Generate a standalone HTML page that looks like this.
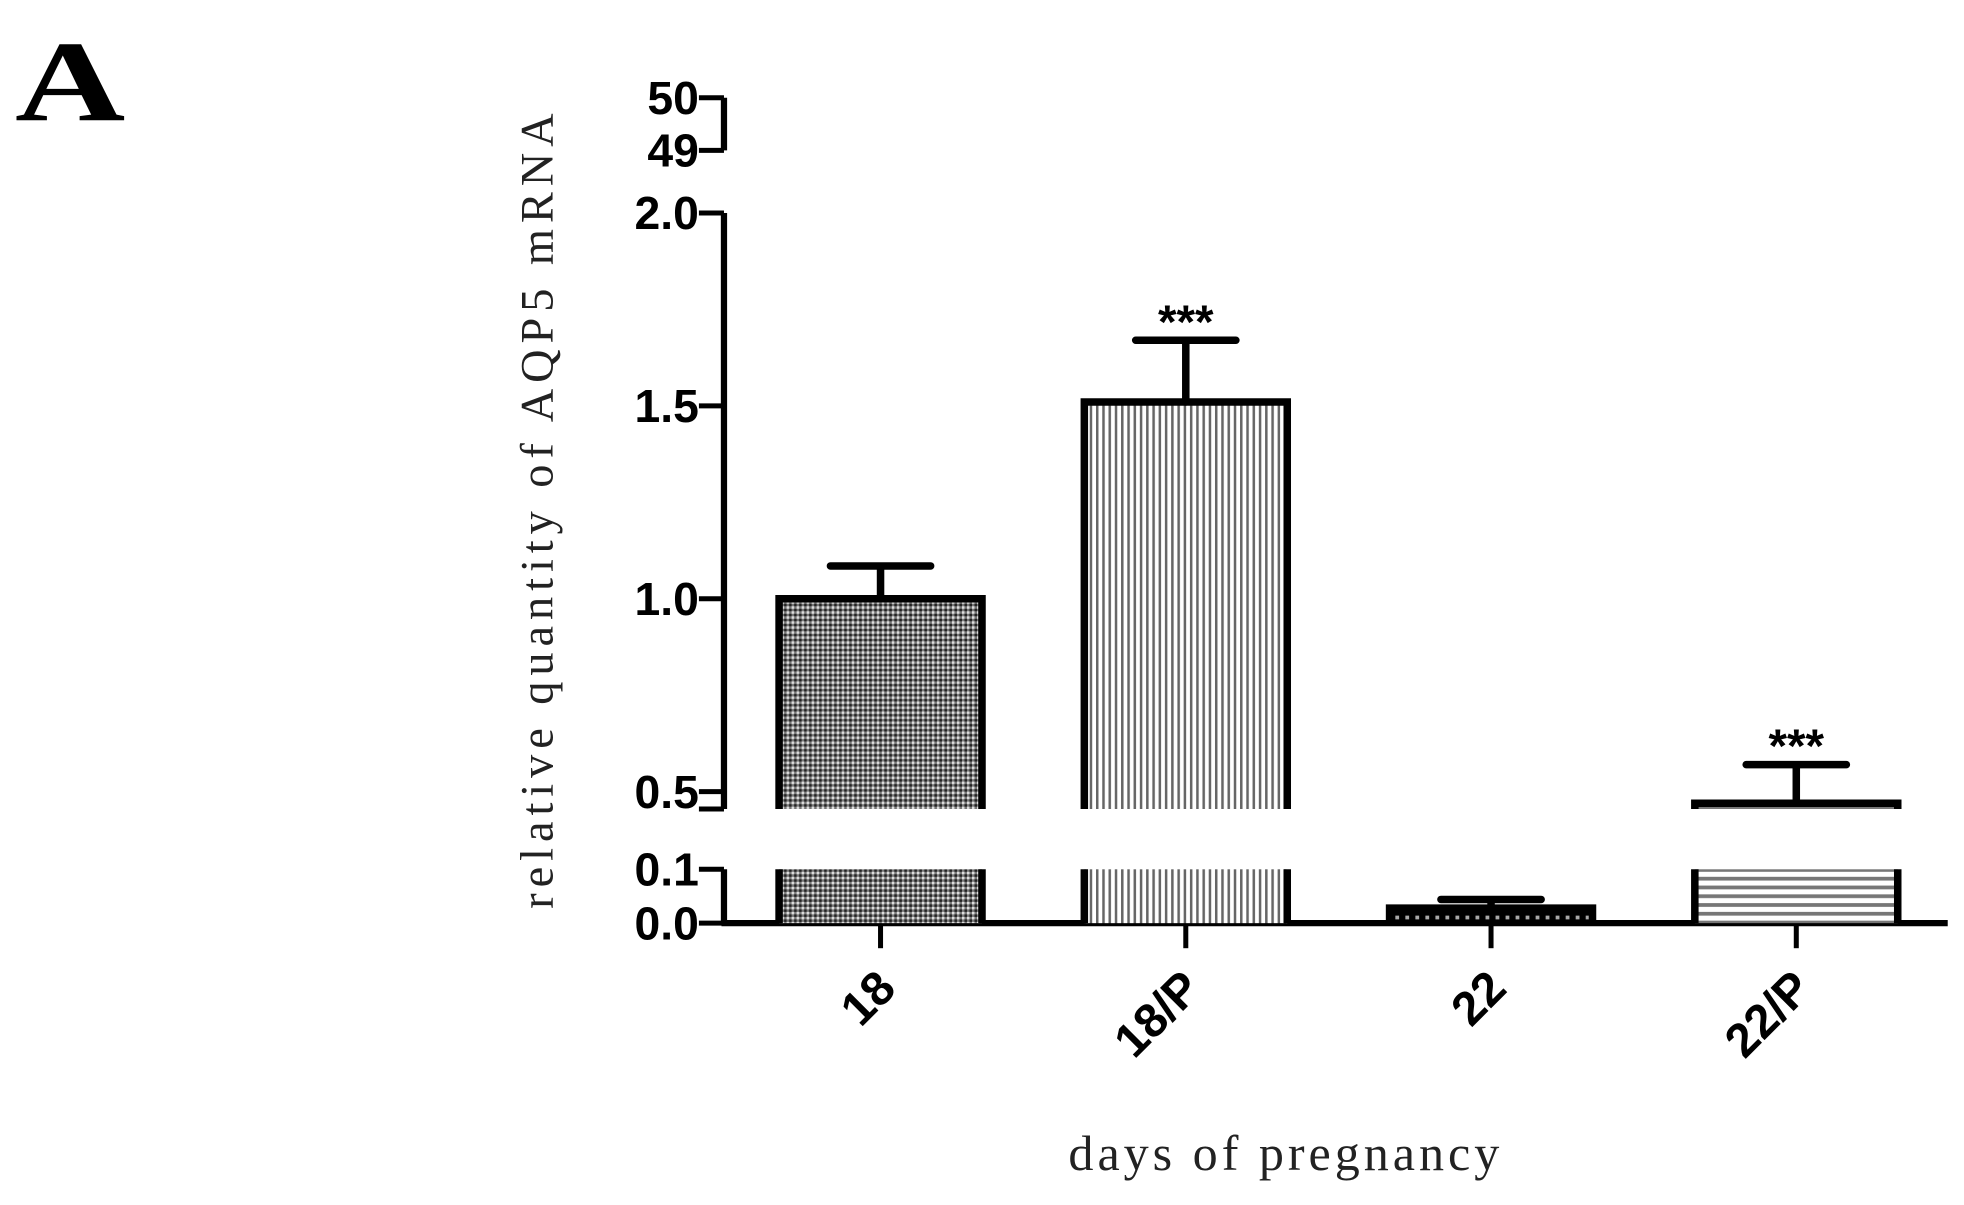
<!DOCTYPE html>
<html><head><meta charset="utf-8"><style>
html,body{margin:0;padding:0;background:#fff;}
svg{display:block;}
.tl{font-family:"Liberation Sans",Arial,sans-serif;font-weight:bold;font-size:37px;fill:#000;}
.xl{font-family:"Liberation Sans",Arial,sans-serif;font-weight:bold;font-size:38px;fill:#000;}
.ser{font-family:"Liberation Serif",serif;fill:#222;}
</style></head><body>
<svg id="chart" width="1964" height="1205" viewBox="0 0 1568 962" xmlns="http://www.w3.org/2000/svg">
<defs>
<pattern id="p0" width="4" height="4" patternUnits="userSpaceOnUse"><rect width="4" height="4" fill="#777"/><rect width="2" height="2" fill="#ddd"/><rect x="2" y="2" width="2" height="2" fill="#222"/></pattern>
<pattern id="p1" width="5" height="5" patternUnits="userSpaceOnUse"><rect width="5" height="5" fill="#fff"/><rect width="2" height="5" fill="#666"/></pattern>
<pattern id="p2" width="8" height="8" patternUnits="userSpaceOnUse"><rect width="8" height="8" fill="#000"/><rect x="2" y="3" width="3" height="3" fill="#aaa"/></pattern>
<pattern id="p3" width="5" height="7" patternUnits="userSpaceOnUse"><rect width="5" height="7" fill="#fff"/><rect width="5" height="3" fill="#777"/></pattern>
</defs>
<text x="12" y="96" font-family="Liberation Serif,serif" font-weight="bold" font-size="92" textLength="88" lengthAdjust="spacingAndGlyphs">A</text>
<g id="axes"></g>
<g id="bars"></g>
<text class="ser" transform="translate(441,408) rotate(-90)" text-anchor="middle" font-size="37" textLength="635" lengthAdjust="spacing">relative quantity of AQP5 mRNA</text>
<text class="ser" x="1025" y="934" text-anchor="middle" font-size="40" textLength="344" lengthAdjust="spacing">days of pregnancy</text>
</svg>
<script>
const categories = ["18", "18/P", "22", "22/P"];
const values = [1.0, 1.51, 0.028, 0.47];
const errors = [0.085, 0.16, 0.016, 0.10];
const stars = ["", "***", "", "***"];
const upperTicks = ["0.5", "1.0", "1.5", "2.0"];
const lowerTicks = ["0.0", "0.1"];
const topTicks = ["49", "50"];
const patterns = ["p0", "p1", "p2", "p3"];

const NS = "http://www.w3.org/2000/svg";
const ax = document.getElementById('axes');
const bg = document.getElementById('bars');
const X0 = 578, BASE = 737;
const yU = v => 170 + (2.0 - v) * 308;
const yL = v => BASE - v * 430;
const yT = v => 120 - (v - 49) * 42;
const BREAK_U = 0.455, LMAX = 0.1;
const xC = i => 703 + i * 243.7;
const BW = 162;
function mk(tag, attrs, parent) { const e = document.createElementNS(NS, tag); for (const k in attrs) e.setAttribute(k, attrs[k]); parent.appendChild(e); return e; }

let l = mk('line', {x1: X0, y1: yU(2.0), x2: X0, y2: yU(BREAK_U), stroke: '#000', 'stroke-width': 5}, ax);
 
l = mk('line', {x1: X0, y1: yL(LMAX), x2: X0, y2: BASE, stroke: '#000', 'stroke-width': 5}, ax);
 
l = mk('line', {x1: X0, y1: yT(50), x2: X0, y2: yT(49), stroke: '#000', 'stroke-width': 5}, ax);
 
l = mk('line', {x1: X0 - 2, y1: BASE, x2: 1555, y2: BASE, stroke: '#000', 'stroke-width': 5}, ax);
 
mk('line', {x1: X0 - 20, y1: yU(BREAK_U), x2: X0, y2: yU(BREAK_U), stroke: '#000', 'stroke-width': 4}, ax);

function tick(y, label, name) {
  mk('line', {x1: X0 - 20, y1: y, x2: X0, y2: y, stroke: '#000', 'stroke-width': 4}, ax);
  const t = mk('text', {x: X0 - 20, y: y + 13, 'text-anchor': 'end', class: 'tl'}, ax);
  t.textContent = label;
  
  
}
upperTicks.forEach(s => tick(yU(parseFloat(s)), s, 'y-tick-label'));
lowerTicks.forEach(s => tick(yL(parseFloat(s)), s, 'y-tick-label'));
topTicks.forEach(s => tick(yT(parseFloat(s)), s, 'y-tick-label'));

categories.forEach((c, i) => {
  const cx = xC(i), x1 = cx - BW / 2, x2 = cx + BW / 2, v = values[i];
  const g = mk('g', {}, bg);
  
  
  const vl = Math.min(v, LMAX), ytl = yL(vl);
  mk('rect', {x: x1, y: ytl, width: BW, height: BASE - ytl, fill: 'url(#' + patterns[i] + ')'}, g);
  let d = 'M' + x1 + ' ' + BASE + ' L' + x1 + ' ' + ytl + (v <= LMAX ? ' L' + x2 + ' ' + ytl : ' M' + x2 + ' ' + ytl) + ' L' + x2 + ' ' + BASE;
  mk('path', {d: d, fill: 'none', stroke: '#000', 'stroke-width': 6}, g);
  let errBase;
  if (v > BREAK_U) {
    const ytu = yU(Math.min(v, 2.0)), yb = yU(BREAK_U);
    mk('rect', {x: x1, y: ytu, width: BW, height: yb - ytu, fill: 'url(#' + patterns[i] + ')'}, g);
    mk('path', {d: 'M' + x1 + ' ' + yb + ' L' + x1 + ' ' + ytu + ' L' + x2 + ' ' + ytu + ' L' + x2 + ' ' + yb, fill: 'none', stroke: '#000', 'stroke-width': 6}, g);
    errBase = yU;
  } else errBase = yL;
  const ye = errBase(v + errors[i]), yv = errBase(v);
  const e = mk('path', {d: 'M' + cx + ' ' + yv + ' L' + cx + ' ' + ye + ' M' + (cx - 40) + ' ' + ye + ' L' + (cx + 40) + ' ' + ye, fill: 'none', stroke: '#000', 'stroke-width': 6, 'stroke-linecap': 'round'}, g);
  
  
  if (stars[i]) {
    const s = mk('text', {x: cx, y: ye - 2, 'text-anchor': 'middle', 'font-family': 'Liberation Sans,sans-serif', 'font-weight': 'bold', 'font-size': 38}, g);
    s.textContent = stars[i];
    
    
  }
  mk('line', {x1: cx, y1: BASE, x2: cx, y2: BASE + 20, stroke: '#000', 'stroke-width': 4}, ax);
  const t = mk('text', {x: 0, y: 0, 'text-anchor': 'end', class: 'xl', transform: 'translate(' + (cx + 14) + ',' + (BASE + 54) + ') rotate(-45)'}, ax);
  t.textContent = c;
  
  
});
</script>
</body></html>
